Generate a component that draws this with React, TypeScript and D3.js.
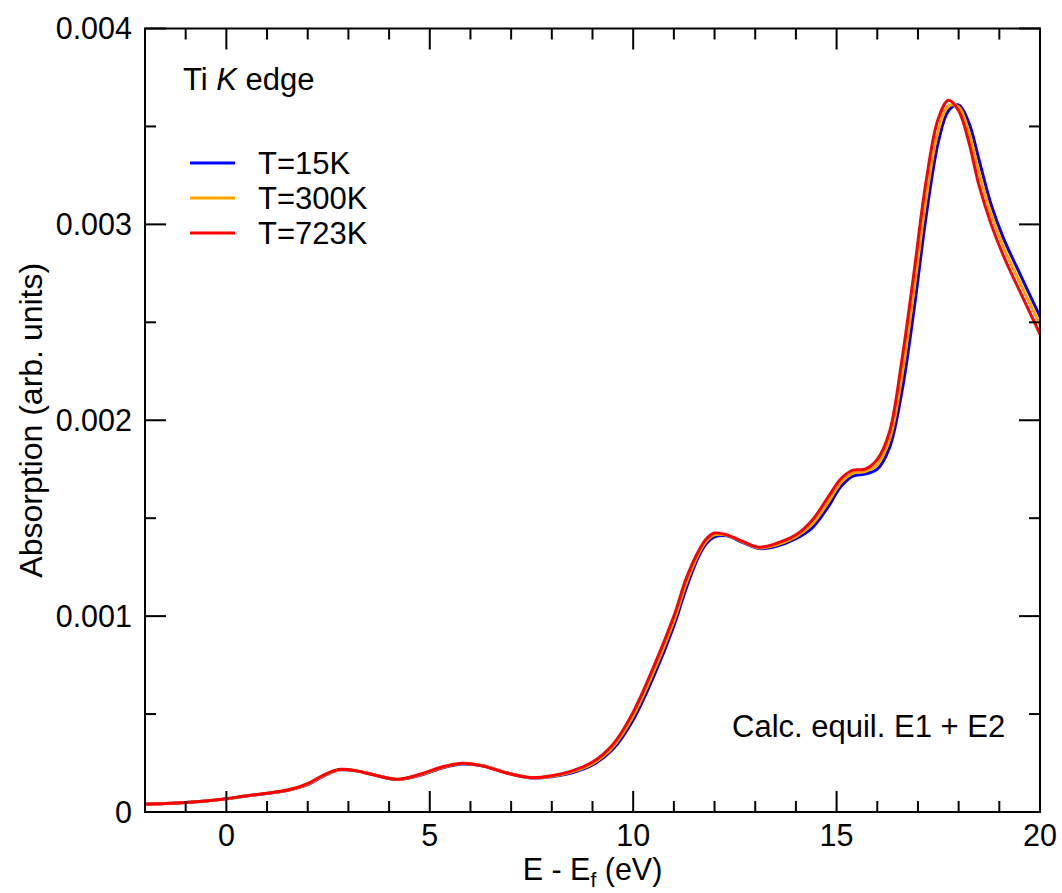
import React from "react";
import * as d3 from "d3";

// Energy grid (eV, relative to the Fermi level)
const energy = [
  -2, -1.5, -1, -0.5, 0, 0.5, 1, 1.5, 2, 2.4, 2.8, 3.2, 3.6, 4.2, 4.8, 5.3, 5.8, 6.3,
  6.9, 7.5, 8, 8.5, 9, 9.5, 10, 10.5, 11, 11.3, 11.6, 11.8, 12, 12.3, 12.7, 13.1, 13.5,
  14, 14.4, 14.8, 15.1, 15.4, 15.7, 16, 16.3, 16.6, 16.9, 17.2, 17.5, 17.75, 18, 18.25,
  18.5, 18.8, 19.1, 19.5, 20,
];

// Absorption in units of 1e-3
const absT15 = [
  0.04, 0.043, 0.048, 0.056, 0.067, 0.082, 0.095, 0.11, 0.14, 0.185, 0.215, 0.21, 0.192,
  0.166, 0.19, 0.225, 0.245, 0.236, 0.2, 0.174, 0.18, 0.2, 0.24, 0.32, 0.47, 0.69, 0.95,
  1.14, 1.3, 1.37, 1.405, 1.41, 1.375, 1.345, 1.355, 1.395, 1.45, 1.56, 1.66, 1.715,
  1.725, 1.75, 1.86, 2.14, 2.56, 3.04, 3.42, 3.58, 3.61, 3.52, 3.33, 3.1, 2.93, 2.75,
  2.53,
];
const absT300 = [
  0.04, 0.043, 0.048, 0.056, 0.0675, 0.0825, 0.0955, 0.111, 0.142, 0.187, 0.216, 0.21,
  0.191, 0.1665, 0.192, 0.227, 0.247, 0.236, 0.199, 0.1745, 0.182, 0.205, 0.247, 0.332,
  0.49, 0.715, 0.975, 1.165, 1.315, 1.383, 1.415, 1.413, 1.378, 1.348, 1.362, 1.405,
  1.47, 1.585, 1.68, 1.73, 1.738, 1.775, 1.9, 2.22, 2.66, 3.13, 3.48, 3.605, 3.6, 3.47,
  3.265, 3.05, 2.885, 2.705, 2.49,
];
const absT723 = [
  0.04, 0.043, 0.048, 0.056, 0.068, 0.083, 0.096, 0.112, 0.145, 0.19, 0.218, 0.21, 0.19,
  0.167, 0.195, 0.23, 0.249, 0.235, 0.198, 0.175, 0.185, 0.21, 0.255, 0.345, 0.51, 0.74,
  1.0, 1.19, 1.33, 1.395, 1.424, 1.415, 1.38, 1.352, 1.37, 1.415, 1.49, 1.61, 1.7, 1.745,
  1.75, 1.8, 1.94, 2.3, 2.75, 3.22, 3.54, 3.634, 3.58, 3.42, 3.2, 3.0, 2.84, 2.66, 2.44,
];

const seriesNames = ["T=15K", "T=300K", "T=723K"];
const seriesColors = ["#0000ff", "#ffa500", "#ff0000"];
const seriesValues = [absT15, absT300, absT723];

const xTicks = [0, 5, 10, 15, 20];
const yTicks = [0, 0.001, 0.002, 0.003, 0.004];
const yTickLabels = ["0", "0.001", "0.002", "0.003", "0.004"];

const W = 1062;
const H = 893;
const left = 145;
const right = 1040;
const top = 28.5;
const bottom = 812;
const FONT = "'Liberation Sans', Arial, Helvetica, sans-serif";

export default function App() {
  const x = d3.scaleLinear().domain([-2, 20]).range([left, right]);
  const y = d3.scaleLinear().domain([0, 0.004]).range([bottom, top]);

  const line = d3
    .line<[number, number]>()
    .x((d) => x(d[0]))
    .y((d) => y(d[1] * 1e-3))
    .curve(d3.curveCatmullRom.alpha(0.5));

  const xMinor = d3.range(-2, 20.001, 1).filter((v) => !xTicks.includes(v));
  const yMinor = d3.range(0, 0.00401, 0.0005).filter(
    (v) => !yTicks.some((t) => Math.abs(t - v) < 1e-9)
  );

  const MAJ = 21;
  const MIN = 11;

  return (
    <svg
      width={W}
      height={H}
      style={{ position: "absolute", left: 0, top: 0, background: "#fff" }}
      fontFamily={FONT}
    >
      <defs>
        <clipPath id="plotArea">
          <rect x={left} y={top} width={right - left} height={bottom - top} />
        </clipPath>
      </defs>
      <rect width={W} height={H} fill="#fff" />

      {/* curves */}
      <g clipPath="url(#plotArea)" fill="none" strokeWidth={3} strokeLinejoin="round">
        {seriesValues.map((vals, i) => (
          <path
            key={seriesNames[i]}
            d={line(energy.map((e, k) => [e, vals[k]] as [number, number])) || ""}
            stroke={seriesColors[i]}
          />
        ))}
      </g>

      {/* ticks on all four sides */}
      <g stroke="#000" strokeWidth={2}>
        {xTicks.map((t) => (
          <g key={"xM" + t}>
            <line x1={x(t)} x2={x(t)} y1={bottom} y2={bottom - MAJ} />
            <line x1={x(t)} x2={x(t)} y1={top} y2={top + MAJ} />
          </g>
        ))}
        {xMinor.map((t) => (
          <g key={"xm" + t}>
            <line x1={x(t)} x2={x(t)} y1={bottom} y2={bottom - MIN} />
            <line x1={x(t)} x2={x(t)} y1={top} y2={top + MIN} />
          </g>
        ))}
        {yTicks.map((t) => (
          <g key={"yM" + t}>
            <line x1={left} x2={left + MAJ} y1={y(t)} y2={y(t)} />
            <line x1={right} x2={right - MAJ} y1={y(t)} y2={y(t)} />
          </g>
        ))}
        {yMinor.map((t) => (
          <g key={"ym" + t}>
            <line x1={left} x2={left + MIN} y1={y(t)} y2={y(t)} />
            <line x1={right} x2={right - MIN} y1={y(t)} y2={y(t)} />
          </g>
        ))}
      </g>

      {/* frame */}
      <rect
        x={left}
        y={top}
        width={right - left}
        height={bottom - top}
        fill="none"
        stroke="#000"
        strokeWidth={2}
      />

      {/* tick labels */}
      <g fontSize={30.5} fill="#000">
        {xTicks.map((t) => (
          <text key={"xl" + t} x={x(t)} y={846} textAnchor="middle">
            {t}
          </text>
        ))}
        {yTicks.map((t, i) => (
          <text key={"yl" + t} x={132} y={y(t) + 10.5} textAnchor="end">
            {yTickLabels[i]}
          </text>
        ))}
      </g>

      {/* axis titles */}
      <text x={(left + right) / 2} y={880} textAnchor="middle" fontSize={30.5}>
        E - E
        <tspan fontSize={21} dy={7}>
          f
        </tspan>
        <tspan dy={-7}> (eV)</tspan>
      </text>
      <text
        transform={`translate(42, ${(top + bottom) / 2}) rotate(-90)`}
        textAnchor="middle"
        fontSize={32}
      >
        Absorption (arb. units)
      </text>

      {/* annotations */}
      <text x={183} y={90} fontSize={31}>
        Ti <tspan fontStyle="italic">K</tspan> edge
      </text>
      <text x={732} y={737} fontSize={31}>
        Calc. equil. E1 + E2
      </text>

      {/* legend */}
      {seriesNames.map((name, i) => (
        <g key={"lg" + name}>
          <line
            x1={190}
            x2={235}
            y1={163 + i * 35}
            y2={163 + i * 35}
            stroke={seriesColors[i]}
            strokeWidth={3}
          />
          <text x={258} y={174 + i * 35} fontSize={31}>
            {name}
          </text>
        </g>
      ))}
    </svg>
  );
}
